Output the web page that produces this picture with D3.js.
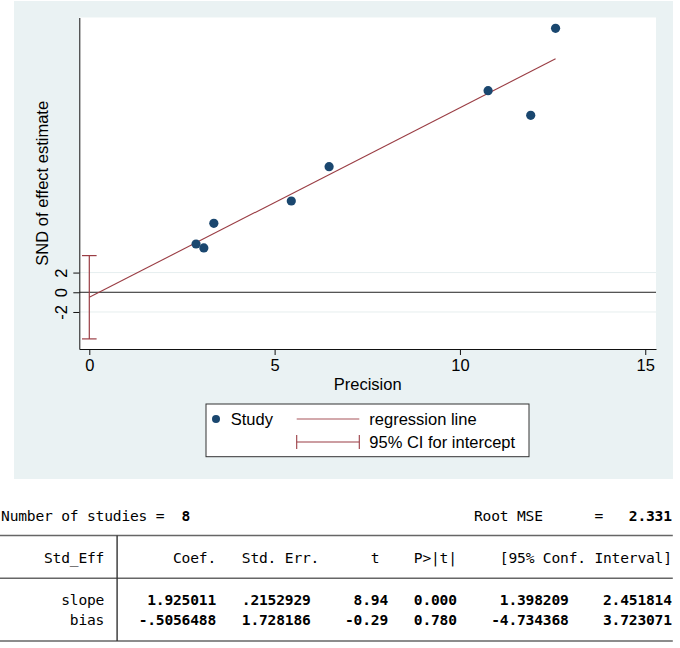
<!DOCTYPE html>
<html>
<head>
<meta charset="utf-8">
<script src="https://cdn.jsdelivr.net/npm/d3@7"></script>
<style>
    html, body { margin: 0; padding: 0; background: #fff; }
    svg { display: block; }
</style>
</head>
<body>
<svg id="chart" width="680" height="648"></svg>
<script>
// studies: precision (x) and standard normal deviate (y)
const precision = [2.88, 3.09, 3.36, 5.45, 6.47, 10.76, 11.91, 12.58];
const snd       = [4.90, 4.50, 7.00, 9.27, 12.75, 20.47, 17.97, 26.80];

// regression line end points
const regX = [0, 12.58];
const regY = [-0.5056, 23.71];

const xTicks = [0, 5, 10, 15];
const yTicks = [-2, 0, 2];

// regression output table
const rowLabels = ['slope', 'bias'];
const headers   = ['Coef.', 'Std. Err.', 't', 'P>|t|', '[95% Conf. Interval]'];
const coef      = ['1.925011', '-.5056488'];
const stdErr    = ['.2152929', '1.728186'];
const tStat     = ['8.94', '-0.29'];
const pValue    = ['0.000', '0.780'];
const ciLow     = ['1.398209', '-4.734368'];
const ciHigh    = ['2.451814', '3.723071'];
const nStudies  = '8';
const rootMse   = '2.331';

const SANS = '"Liberation Sans", Arial, sans-serif';
const MONO = '"DejaVu Sans Mono", monospace';
const NAVY = '#1a476f';
const MAROON = '#9a3d44';

const svg = d3.select('#chart');

// graph background
svg.append('rect')
    .attr('x', 14).attr('y', 1)
    .attr('width', 659).attr('height', 478)
    .attr('fill', '#eaf2f3');

const plot = { left: 79.3, right: 656, top: 17.5, bottom: 349 };

svg.append('rect')
    .attr('x', plot.left).attr('y', plot.top)
    .attr('width', plot.right - plot.left).attr('height', plot.bottom - plot.top)
    .attr('fill', '#fff');

const x = d3.scaleLinear().domain([-0.27, 15.29]).range([plot.left, plot.right]);
const y = d3.scaleLinear().domain([-5.76, 27.9]).range([plot.bottom, plot.top]);

// faint grid lines
svg.selectAll('.grid')
    .data(yTicks.filter(function(d) { return d !== 0; }))
    .enter()
    .append('line')
    .attr('x1', plot.left).attr('x2', plot.right)
    .attr('y1', function(d) { return y(d); })
    .attr('y2', function(d) { return y(d); })
    .attr('stroke', '#e6eeef')
    .attr('stroke-width', 1);

// zero line
svg.append('line')
    .attr('x1', plot.left).attr('x2', plot.right)
    .attr('y1', y(0)).attr('y2', y(0))
    .attr('stroke', '#222')
    .attr('stroke-width', 1);

// axes
const xAxis = svg.append('g')
    .attr('transform', 'translate(0,' + plot.bottom + ')')
    .call(d3.axisBottom(x).tickValues(xTicks).tickSize(6).tickSizeOuter(0));
xAxis.select('.domain').attr('stroke', '#111');
xAxis.selectAll('.tick line').attr('stroke', '#111');
xAxis.selectAll('.tick text')
    .attr('y', 10)
    .attr('dy', '0.71em')
    .style('font-family', SANS)
    .style('font-size', '16.5px')
    .attr('fill', '#000');

const yAxis = svg.append('g')
    .attr('transform', 'translate(' + plot.left + ',0)')
    .call(d3.axisLeft(y).tickValues(yTicks).tickSize(6).tickSizeOuter(0)
        .tickFormat(function(d) { return String(d); }));
yAxis.select('.domain').attr('stroke', '#111');
yAxis.selectAll('.tick line').attr('stroke', '#111');
yAxis.selectAll('.tick text')
    .attr('transform', 'rotate(-90)')
    .attr('x', 0)
    .attr('y', -12.8)
    .attr('dy', 0)
    .attr('text-anchor', 'middle')
    .style('font-family', SANS)
    .style('font-size', '16.5px')
    .attr('fill', '#000');

svg.append('text')
    .attr('x', (plot.left + plot.right) / 2)
    .attr('y', 390)
    .attr('text-anchor', 'middle')
    .style('font-family', SANS)
    .style('font-size', '16.5px')
    .text('Precision');

svg.append('text')
    .attr('transform', 'translate(48,' + ((plot.top + plot.bottom) / 2) + ') rotate(-90)')
    .attr('text-anchor', 'middle')
    .style('font-family', SANS)
    .style('font-size', '16.5px')
    .text('SND of effect estimate');

// 95% CI for intercept
const ciLo = +ciLow[1];
const ciHi = +ciHigh[1];
svg.append('line')
    .attr('x1', x(0)).attr('x2', x(0))
    .attr('y1', y(ciLo)).attr('y2', y(ciHi))
    .attr('stroke', MAROON).attr('stroke-width', 1.2);
svg.selectAll('.cap')
    .data([ciLo, ciHi])
    .enter()
    .append('line')
    .attr('x1', x(0) - 7.3).attr('x2', x(0) + 7.3)
    .attr('y1', function(d) { return y(d); })
    .attr('y2', function(d) { return y(d); })
    .attr('stroke', MAROON).attr('stroke-width', 1.2);

// regression line
svg.append('line')
    .attr('x1', x(regX[0])).attr('y1', y(regY[0]))
    .attr('x2', x(regX[1])).attr('y2', y(regY[1]))
    .attr('stroke', MAROON).attr('stroke-width', 1.1);

// studies
svg.selectAll('.study')
    .data(precision)
    .enter()
    .append('circle')
    .attr('cx', function(d) { return x(d); })
    .attr('cy', function(d, i) { return y(snd[i]); })
    .attr('r', 4.6)
    .attr('fill', NAVY);

// legend
const legend = svg.append('g');
legend.append('rect')
    .attr('x', 206).attr('y', 404)
    .attr('width', 323).attr('height', 52.7)
    .attr('fill', '#fff')
    .attr('stroke', '#333')
    .attr('stroke-width', 1);
legend.append('circle')
    .attr('cx', 216).attr('cy', 419).attr('r', 4)
    .attr('fill', NAVY);
legend.append('line')
    .attr('x1', 296.7).attr('x2', 359.3)
    .attr('y1', 419).attr('y2', 419)
    .attr('stroke', '#c48d90').attr('stroke-width', 1.6);
legend.append('line')
    .attr('x1', 296.7).attr('x2', 359.3)
    .attr('y1', 442).attr('y2', 442)
    .attr('stroke', MAROON).attr('stroke-width', 1.1);
legend.selectAll('.lcap')
    .data([296.7, 359.3])
    .enter()
    .append('line')
    .attr('x1', function(d) { return d; })
    .attr('x2', function(d) { return d; })
    .attr('y1', 435).attr('y2', 449)
    .attr('stroke', MAROON).attr('stroke-width', 1.1);
const legendTexts = [
    { t: 'Study', x: 230.7, y: 425 },
    { t: 'regression line', x: 369.3, y: 425 },
    { t: '95% CI for intercept', x: 369.3, y: 448.3 }
];
legend.selectAll('.ltext')
    .data(legendTexts)
    .enter()
    .append('text')
    .attr('x', function(d) { return d.x; })
    .attr('y', function(d) { return d.y; })
    .style('font-family', SANS)
    .style('font-size', '16.5px')
    .text(function(d) { return d.t; });

// results table (78 character columns, monospace)
const col = d3.scaleLinear().domain([0, 78]).range([1, 1 + 78 * 8.6]);
const table = svg.append('g')
    .style('font-family', MONO)
    .style('font-size', '14.6px')
    .style('letter-spacing', '-0.19px')
    .attr('fill', '#000');

function cell(text, endCol, baseline, bold) {
    table.append('text')
        .attr('x', col(endCol))
        .attr('y', baseline)
        .attr('text-anchor', 'end')
        .style('font-weight', bold ? 'bold' : 'normal')
        .style('white-space', 'pre')
        .text(text);
}

cell('Number of studies =', 19, 520.7, false);
cell(nStudies, 22, 520.7, true);
cell('Root MSE', 63, 520.7, false);
cell('=', 70, 520.7, false);
cell(rootMse, 78, 520.7, true);

const headerEnds = [25, 37, 44, 53, 78];
cell('Std_Eff', 12, 563, false);
headers.forEach(function(h, i) { cell(h, headerEnds[i], 563, false); });

const valueEnds = [25, 36, 45, 53, 66, 78];
const rowBase = [605, 625];
rowLabels.forEach(function(lab, r) {
    cell(lab, 12, rowBase[r], false);
    [coef, stdErr, tStat, pValue, ciLow, ciHigh].forEach(function(arr, c) {
        cell(arr[r], valueEnds[c], rowBase[r], true);
    });
});

const hLines = [535.5, 578.3, 641];
table.selectAll('.hline')
    .data(hLines)
    .enter()
    .append('line')
    .attr('x1', 0).attr('x2', col(78) + 1)
    .attr('y1', function(d) { return d; })
    .attr('y2', function(d) { return d; })
    .attr('stroke', '#666')
    .attr('stroke-width', 1.6);
table.append('line')
    .attr('x1', col(13.5)).attr('x2', col(13.5))
    .attr('y1', hLines[0]).attr('y2', hLines[2])
    .attr('stroke', '#333')
    .attr('stroke-width', 1.4);
</script>
</body>
</html>
